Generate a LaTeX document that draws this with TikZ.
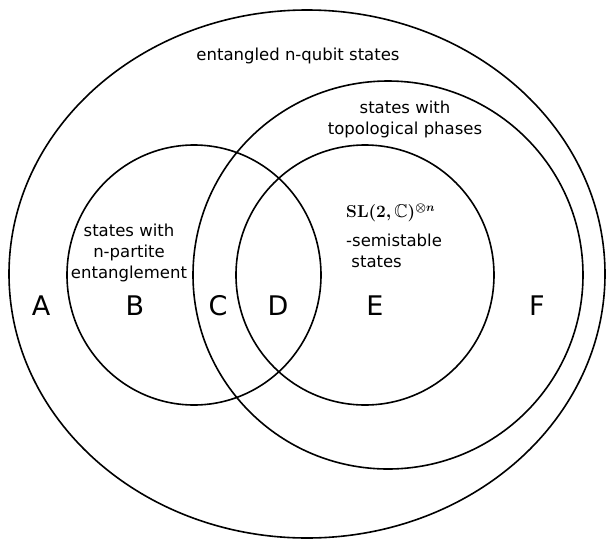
\documentclass[tikz,border=0pt]{standalone}
\usepackage{amsmath,amssymb,bm}
\usepackage[no-math]{fontspec}
\setmainfont{DejaVu Sans}
\begin{document}
\begin{tikzpicture}[x=1pt,y=-1pt,
  setline/.style={line width=1.6pt},
  lbl/.style={font=\fontsize{16.5}{21}\selectfont,align=center,inner sep=0pt},
  big/.style={font=\fontsize{27}{30}\selectfont,inner sep=0pt}]
\useasboundingbox (0,0) rectangle (606,539);
\draw[setline] (307,274) ellipse [x radius=298, y radius=264];
\draw[setline] (388,275) ellipse [x radius=195, y radius=194];
\draw[setline] (194,275) ellipse [x radius=127, y radius=130];
\draw[setline] (365,275) ellipse [x radius=129, y radius=130];
\node[lbl] (t1) at (298,56) {entangled n-qubit states};
\node[lbl] (t2) at (405,119) {states with\\topological phases};
\node[lbl] (t3) at (129,253) {states with\\n-partite\\entanglement};
\node[lbl,anchor=west,font=\fontsize{18.5}{22}\selectfont] (t4) at (346,213) {$\boldsymbol{\mathbf{SL}(2,\mathbb{C})^{\otimes n}}$};
\node[lbl,anchor=west,align=left] (t5) at (346,250.5) {-semistable\\\ states};
\node[big] (A) at (41,306) {A};
\node[big] (B) at (135,306) {B};
\node[big] (C) at (218,306) {C};
\node[big] (D) at (278,306) {D};
\node[big] (E) at (375,306) {E};
\node[big] (F) at (537,306) {F};
\end{tikzpicture}
\end{document}
